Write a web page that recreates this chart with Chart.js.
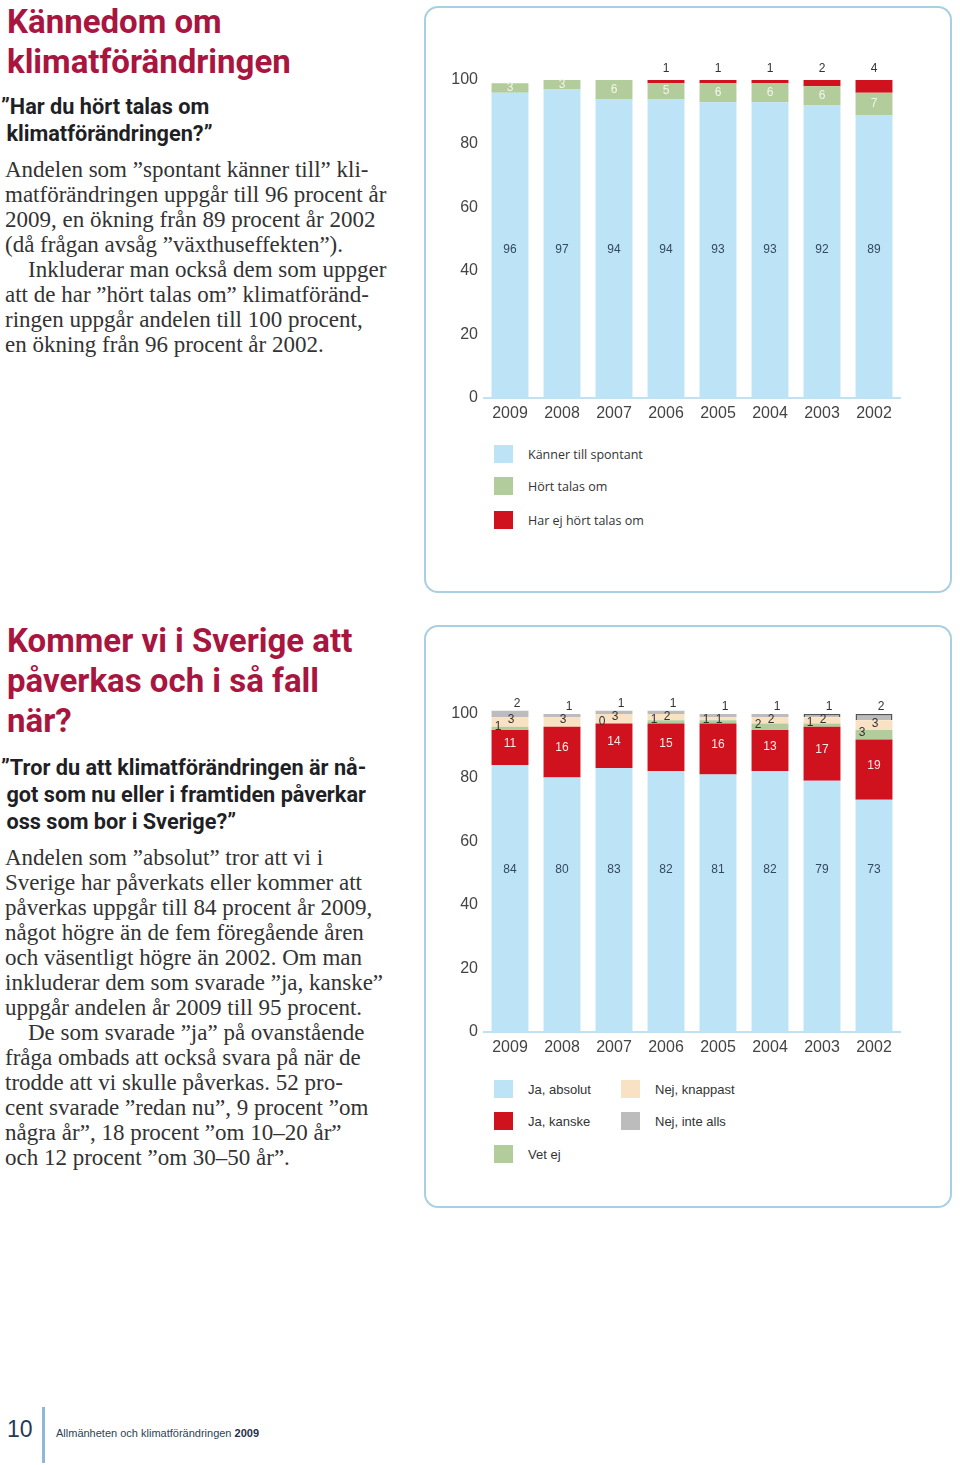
<!DOCTYPE html>
<html lang="sv">
<head>
<meta charset="utf-8">
<script src="https://cdn.jsdelivr.net/npm/chart.js@4/dist/chart.umd.min.js"></script>
<style>
  html, body { margin: 0; padding: 0; background: #fff; }
  body { width: 960px; height: 1465px; position: relative; overflow: hidden; }
  .abs { position: absolute; white-space: nowrap; }
  .title { font-family: Roboto, sans-serif; font-weight: 700; font-size: 33px; line-height: 40px; color: #a8163f; }
  .sub { font-family: Roboto, sans-serif; font-weight: 700; font-size: 21.7px; line-height: 27px; color: #1f1f26; }
  .body { font-family: "Liberation Serif", serif; font-size: 23px; line-height: 25px; color: #333; }
  .panel { position: absolute; border: 2.5px solid #a8cfe2; border-radius: 14px; box-sizing: border-box; }
  canvas { position: absolute; }
  .leg { position: absolute; font-size: 13px; color: #333; display: flex; align-items: center; }
  .leg i { display: inline-block; width: 19px; height: 18px; margin-right: 15px; }
  .top-leg { font-family: "Open Sans", sans-serif; font-size: 12.5px; }
  .bot-leg { font-family: "Liberation Sans", sans-serif; }
</style>
</head>
<body>

<div class="abs title" style="left:7px; top:2px;">Kännedom om<br>klimatförändringen</div>
<div class="abs sub" style="left:1px; top:93px;">”Har du hört talas om<br>&nbsp;klimatförändringen?”</div>
<div class="abs body" style="left:5px; top:157px;">Andelen som ”spontant känner till” kli-<br>matförändringen uppgår till 96 procent år<br>2009, en ökning från 89 procent år 2002<br>(då frågan avsåg ”växthuseffekten”).<br>&nbsp;&nbsp;&nbsp;&nbsp;Inkluderar man också dem som uppger<br>att de har ”hört talas om” klimatföränd-<br>ringen uppgår andelen till 100 procent,<br>en ökning från 96 procent år 2002.</div>

<div class="abs title" style="left:7px; top:621px;">Kommer vi i Sverige att<br>påverkas och i så fall<br>när?</div>
<div class="abs sub" style="left:1px; top:754px;">”Tror du att klimatförändringen är nå-<br>&nbsp;got som nu eller i framtiden påverkar<br>&nbsp;oss som bor i Sverige?”</div>
<div class="abs body" style="left:5px; top:845px;">Andelen som ”absolut” tror att vi i<br>Sverige har påverkats eller kommer att<br>påverkas uppgår till 84 procent år 2009,<br>något högre än de fem föregående åren<br>och väsentligt högre än 2002. Om man<br>inkluderar dem som svarade ”ja, kanske”<br>uppgår andelen år 2009 till 95 procent.<br>&nbsp;&nbsp;&nbsp;&nbsp;De som svarade ”ja” på ovanstående<br>fråga ombads att också svara på när de<br>trodde att vi skulle påverkas. 52 pro-<br>cent svarade ”redan nu”, 9 procent ”om<br>några år”, 18 procent ”om 10–20 år”<br>och 12 procent ”om 30–50 år”.</div>

<div class="panel" style="left:424px; top:6px; width:528px; height:587px;"></div>
<div class="panel" style="left:424px; top:625px; width:528px; height:583px;"></div>

<canvas id="kannedomChart" width="470" height="370" style="left:440px; top:60px;"></canvas>
<canvas id="paverkasChart" width="470" height="370" style="left:440px; top:694px;"></canvas>

<div class="leg top-leg" style="left:494px; top:445px;"><i style="background:#bde3f7"></i>Känner till spontant</div>
<div class="leg top-leg" style="left:494px; top:477px;"><i style="background:#b3cc9b"></i>Hört talas om</div>
<div class="leg top-leg" style="left:494px; top:511px;"><i style="background:#d0121f"></i>Har ej hört talas om</div>

<div class="leg bot-leg" style="left:494px; top:1080px;"><i style="background:#bde3f7"></i>Ja, absolut</div>
<div class="leg bot-leg" style="left:494px; top:1112px;"><i style="background:#d0121f"></i>Ja, kanske</div>
<div class="leg bot-leg" style="left:494px; top:1145px;"><i style="background:#b3cc9b"></i>Vet ej</div>
<div class="leg bot-leg" style="left:621px; top:1080px;"><i style="background:#f8e2c3"></i>Nej, knappast</div>
<div class="leg bot-leg" style="left:621px; top:1112px;"><i style="background:#bcbcbc"></i>Nej, inte alls</div>

<div class="abs" style="left:7px; top:1416px; font-family:'Liberation Sans',sans-serif; font-size:23px; color:#1f3a5c;">10</div>
<div class="abs" style="left:42px; top:1407px; width:3px; height:56px; background:#8fb8d8;"></div>
<div class="abs" style="left:56px; top:1427px; font-family:'Liberation Sans',sans-serif; font-size:11px; color:#2d3f55;">Allmänheten och klimatförändringen <b style="color:#1f2f4a">2009</b></div>

<script>
const years = ['2009', '2008', '2007', '2006', '2005', '2004', '2003', '2002'];
const yTicks = [0, 20, 40, 60, 80, 100];

// Kännedom om klimatförändringen
const kannerSpontant = [96, 97, 94, 94, 93, 93, 92, 89];
const hortTalasOm = [3, 3, 6, 5, 6, 6, 6, 7];
const harEjHort = [null, null, null, 1, 1, 1, 2, 4];

// Påverkas Sverige
const jaAbsolut = [84, 80, 83, 82, 81, 82, 79, 73];
const jaKanske = [11, 16, 14, 15, 16, 13, 17, 19];
const vetEj = [1, null, 0, 1, 1, 2, 1, 3];
const nejKnappast = [3, 3, 3, 2, 1, 2, 2, 3];
const nejInteAlls = [2, 1, 1, 1, 1, 1, 1, 2];

const BLUE = '#bde3f7', GREEN = '#b3cc9b', RED = '#d0121f', BEIGE = '#f8e2c3', GRAY = '#bcbcbc';

// draws the value labels next to / inside each segment
const segmentLabels = {
    id: 'segmentLabels',
    afterDatasetsDraw(chart) {
        const ctx = chart.ctx;
        const yScale = chart.scales.y;
        ctx.save();
        ctx.font = '12px "Liberation Sans", sans-serif';
        ctx.textAlign = 'center';
        ctx.textBaseline = 'middle';
        chart.data.datasets.forEach((ds, i) => {
            const lbl = ds.lbl;
            if (!lbl) return;
            chart.getDatasetMeta(i).data.forEach((el, j) => {
                const v = ds.data[j];
                if (v === null || v === undefined) return;
                let y;
                if (lbl.mode === 'fixed') y = yScale.getPixelForValue(lbl.at);
                else if (lbl.mode === 'center') y = (el.y + el.base) / 2 + (lbl.dy || 0);
                else y = el.y + (lbl.dy || 0);
                ctx.fillStyle = lbl.color;
                ctx.fillText(String(v), el.x + (lbl.dx || 0), y);
            });
        });
        ctx.restore();
    }
};

function makeOptions() {
    return {
        responsive: false,
        animation: false,
        layout: { padding: { top: 20, right: 10, left: 0, bottom: 0 } },
        plugins: { legend: { display: false }, tooltip: { enabled: false } },
        scales: {
            x: {
                stacked: true,
                grid: { display: false, drawTicks: false },
                border: { display: true, color: '#bfe1f2', width: 2 },
                ticks: { color: '#444', font: { family: 'Liberation Sans', size: 16 }, padding: 6, maxRotation: 0 },
                afterFit: s => { s.height = 32; }
            },
            y: {
                stacked: true,
                min: 0, max: 100,
                grid: { display: false, drawTicks: false },
                border: { display: false },
                afterBuildTicks: s => { s.ticks = yTicks.map(v => ({ value: v })); },
                ticks: { color: '#444', font: { family: 'Liberation Sans', size: 16 }, padding: 6 },
                afterFit: s => { s.width = 44; }
            }
        }
    };
}

function bar(label, data, color, lbl, extra) {
    return Object.assign({
        label: label,
        data: data,
        backgroundColor: color,
        borderWidth: 0,
        barPercentage: 0.71,
        categoryPercentage: 1,
        clip: false,
        lbl: lbl
    }, extra || {});
}

new Chart(document.getElementById('kannedomChart'), {
    type: 'bar',
    data: {
        labels: years,
        datasets: [
            bar('Känner till spontant', kannerSpontant, BLUE, { mode: 'fixed', at: 46.5, color: '#34495e' }),
            bar('Hört talas om', hortTalasOm, GREEN, { mode: 'center', color: '#f3f5ea' }),
            bar('Har ej hört talas om', harEjHort, RED, { mode: 'top', dy: -11, color: '#333' })
        ]
    },
    options: makeOptions(),
    plugins: [segmentLabels]
});

new Chart(document.getElementById('paverkasChart'), {
    type: 'bar',
    data: {
        labels: years,
        datasets: [
            bar('Ja, absolut', jaAbsolut, BLUE, { mode: 'fixed', at: 51, color: '#34495e' }),
            bar('Ja, kanske', jaKanske, RED, { mode: 'center', dy: -4, color: '#fbeaea' }),
            bar('Vet ej', vetEj, GREEN, { mode: 'center', dx: -12, dy: -2, color: '#333' }),
            bar('Nej, knappast', nejKnappast, BEIGE, { mode: 'top', dx: 1, dy: 3, color: '#333' }),
            bar('Nej, inte alls', nejInteAlls, GRAY, { mode: 'top', dx: 7, dy: -7, color: '#333' }, {
                borderColor: '#555',
                borderWidth: [0, 0, 0, 0, 0, 0, 1.5, 1.5]
            })
        ]
    },
    options: makeOptions(),
    plugins: [segmentLabels]
});
</script>
</body>
</html>
